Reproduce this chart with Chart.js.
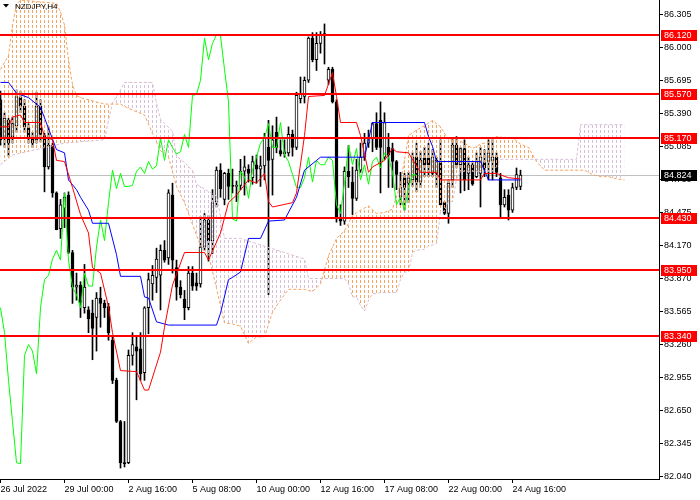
<!DOCTYPE html>
<html><head><meta charset="utf-8">
<script src="https://cdn.jsdelivr.net/npm/chart.js@4/dist/chart.umd.min.js"></script>
<style>html,body{margin:0;padding:0;background:#fff}#wrap{width:700px;height:500px;position:relative}</style>
</head><body><div id="wrap"><canvas id="c" width="700" height="500"></canvas></div>
<script>
const chartTitle = 'NZDJPY,H4';
const xTickIdx = [0, 16, 32, 48, 64, 80, 96, 112, 128];
const xTickLabels = ['26 Jul 2022','29 Jul 00:00','2 Aug 16:00','5 Aug 08:00','10 Aug 00:00','12 Aug 16:00','17 Aug 08:00','22 Aug 00:00','24 Aug 16:00'];
const yTickLabels = ['86.305','86.000','85.695','85.390','85.085','84.780','84.475','84.170','83.870','83.565','83.260','82.955','82.650','82.345','82.040'];
const levels = [86.120, 85.570, 85.170, 84.430, 83.950, 83.340];
const lastPrice = 84.824;

const opens = [85.52,85.17,85.33,85.18,85.28,85.54,85.46,85.26,85.17,85.15,85.46,85.19,84.90,85.10,84.66,84.33,84.52,84.64,84.11,83.79,
83.81,83.60,83.58,83.55,83.51,83.69,83.64,83.61,83.30,82.93,82.55,82.17,82.17,83.16,83.24,83.22,83.00,83.60,83.82,83.88,
83.90,84.13,84.06,84.64,83.97,83.79,83.68,83.60,83.92,83.83,83.82,84.16,84.41,84.22,84.58,84.87,84.60,84.84,84.73,84.72,
84.73,84.86,84.88,84.80,84.92,84.88,84.91,85.08,84.97,85.22,85.05,85.02,85.03,85.20,85.08,85.53,85.55,85.70,86.09,85.89,
86.04,86.13,85.70,85.80,85.50,84.42,84.40,84.86,84.76,84.61,84.87,84.99,85.12,85.17,85.30,85.33,84.99,85.08,85.07,84.95,
84.62,84.80,84.75,84.78,84.99,84.76,84.98,84.98,84.84,84.84,84.94,84.57,84.47,84.78,85.10,84.92,85.07,84.84,84.92,84.81,
84.84,84.94,84.95,84.96,84.99,84.80,84.55,84.64,84.50,84.71,84.72];
const highs = [85.60,85.40,85.35,85.36,85.61,85.60,85.52,85.30,85.22,85.59,85.52,85.21,85.27,85.12,84.67,84.60,84.66,84.67,84.13,83.92,
83.84,84.00,83.61,83.67,83.74,83.79,83.67,83.64,83.33,82.95,82.56,82.55,83.21,83.37,83.33,83.37,83.61,83.92,83.99,84.15,
84.18,84.22,84.69,84.75,84.04,83.85,83.76,83.98,83.98,83.92,84.44,84.47,84.45,84.69,84.90,84.93,84.85,84.88,84.88,84.77,
84.97,85.00,84.92,85.00,85.01,85.00,85.21,85.33,85.28,85.36,85.15,85.15,85.27,85.24,85.59,85.73,85.73,86.10,86.14,86.14,
86.15,86.22,85.82,85.82,85.52,84.55,84.90,85.10,84.90,84.97,85.12,85.21,85.24,85.31,85.40,85.50,85.40,85.21,85.12,84.96,
84.85,84.84,84.85,85.03,85.12,85.04,85.08,85.12,85.06,84.99,85.15,84.58,84.78,85.17,85.18,85.08,85.15,84.99,84.94,85.03,
85.08,85.06,85.15,85.15,85.03,84.84,84.69,84.69,84.75,84.89,84.87];
const lows = [85.10,85.08,85.00,85.12,85.22,85.40,85.22,85.12,85.08,85.12,85.13,84.67,84.88,84.62,84.32,84.24,84.34,84.10,83.64,83.67,
83.51,83.55,83.37,83.12,83.20,83.42,83.51,83.30,82.90,82.54,82.12,82.13,82.16,83.07,82.75,82.93,82.93,83.36,83.67,83.74,
83.58,84.02,84.00,83.92,83.67,83.69,83.49,83.58,83.76,83.76,83.79,84.13,84.03,84.10,84.53,84.62,84.55,84.60,84.66,84.58,
84.69,84.64,84.76,84.74,84.75,84.72,84.78,83.72,84.64,85.03,85.00,84.99,85.00,85.00,85.06,85.49,85.49,85.68,85.87,85.79,
85.95,85.85,85.66,85.49,84.39,84.36,84.37,84.71,84.46,84.59,84.85,84.96,85.08,85.04,85.06,84.66,84.97,84.71,84.71,84.69,
84.55,84.50,84.57,84.72,84.67,84.71,84.81,84.81,84.81,84.71,84.55,84.46,84.38,84.71,84.89,84.66,84.68,84.69,84.73,84.80,
84.53,84.81,84.78,84.78,84.81,84.44,84.53,84.41,84.48,84.69,84.69];
const closes = [85.15,85.35,85.12,85.30,85.55,85.46,85.27,85.18,85.12,85.46,85.20,84.90,85.10,84.66,84.32,84.55,84.62,84.11,83.79,83.81,
83.65,83.79,83.50,83.41,83.69,83.64,83.60,83.37,82.93,82.55,82.17,82.16,83.16,83.26,83.20,82.99,83.60,83.86,83.90,84.05,
84.13,84.04,84.66,84.04,83.79,83.72,83.60,83.92,83.80,83.80,84.16,84.41,84.22,84.57,84.87,84.70,84.84,84.72,84.72,84.73,
84.86,84.90,84.84,84.95,84.88,84.91,85.17,84.96,85.15,85.08,85.02,85.04,85.20,85.08,85.56,85.57,85.70,86.09,85.89,86.04,
86.12,86.11,85.80,85.50,84.42,84.40,84.86,84.81,84.61,84.87,84.99,85.12,85.17,85.30,85.08,85.08,85.31,85.01,84.95,84.83,
84.71,84.71,84.80,84.99,84.76,84.96,84.92,84.92,84.99,84.96,84.55,84.47,84.75,85.10,84.92,85.07,84.78,84.92,84.74,84.95,
84.99,84.89,85.03,84.99,84.85,84.55,84.62,84.50,84.71,84.83,84.824];

// Chikou span (green), starts at bar 0
const chikou = [83.60,83.37,82.93,82.55,82.17,82.16,83.16,83.26,83.20,82.99,83.60,83.86,83.90,84.05,84.13,84.04,84.66,84.04,83.79,83.72,
83.60,83.92,83.80,83.80,84.16,84.41,84.22,84.57,84.87,84.70,84.84,84.72,84.72,84.73,84.86,84.90,84.84,84.95,84.88,84.91,
85.17,84.96,85.15,85.08,85.02,85.04,85.20,85.08,85.56,85.57,85.70,86.09,85.89,86.04,86.12,86.11,85.80,85.50,84.42,84.40,
84.86,84.81,84.61,84.87,84.99,85.12,85.17,85.30,85.08,85.08,85.31,85.01,84.95,84.83,84.71,84.71,84.80,84.99,84.76,84.96,
84.92,84.92,84.99,84.96,84.55,84.47,84.75,85.10,84.92,85.07,84.78,84.92,84.74,84.95,84.99,84.89,85.03,84.99,84.85,84.55,
84.62,84.50,84.71,84.83,84.824];

const tenkanIdx = [0,2,3,5,6,10,11,13,14,16,18,20,22,23,25,27,28,30,34,36,37,40,41,43,46,51,52,55,57,59,62,64,66,67,68,73,74,76,77,81,83,84,85,89,90,92,93,96,98,99,102,105,109,110,120,121,124,127,130];
const tenkanVal = [85.27,85.27,85.36,85.38,85.31,85.31,85.18,85.15,84.96,84.95,84.71,84.46,84.29,83.97,83.92,83.61,83.37,83.02,83.01,82.84,82.84,83.19,83.42,83.81,84.11,84.11,84.04,84.29,84.57,84.64,84.78,84.75,84.84,84.58,84.53,84.57,84.66,85.19,85.55,85.56,85.77,85.55,85.31,85.31,85.19,84.85,84.90,84.96,85.07,85.04,85.03,84.85,84.85,84.78,84.78,84.84,84.84,84.80,84.79];

const kijunIdx = [0,2,4,7,10,14,16,17,19,20,22,23,27,29,30,35,36,37,39,42,54,55,57,58,60,62,65,67,71,74,76,79,80,91,93,106,107,108,109,120,122,130];
const kijunVal = [85.68,85.68,85.58,85.54,85.45,85.06,85.03,84.78,84.69,84.62,84.50,84.38,84.38,84.09,83.89,83.89,83.70,83.69,83.47,83.44,83.44,83.55,83.86,83.88,83.93,84.24,84.24,84.40,84.41,84.62,84.87,84.96,84.99,84.99,85.31,85.31,85.18,85.09,84.95,84.95,84.78,84.78];

const spanAIdx = [0,2,3,4,5,14,15,16,17,18,19,20,24,26,30,32,34,36,38,40,42,44,46,48,50,52,54,56,58,60,62,64,66,68,70,72,76,78,80,82,84,86,88,90,92,94,96,98,100,102,104,106,108,110,112,114,116,118,120,122,124,126,128,130,132,134,136,146,148,150,152,154,156];
const spanAVal = [85.80,85.93,86.21,86.40,86.44,86.41,86.33,86.21,85.89,85.66,85.56,85.54,85.50,85.48,85.48,85.44,85.41,85.38,85.21,85.05,84.99,84.72,84.57,84.37,84.17,84.09,83.78,83.46,83.45,83.43,83.27,83.33,83.33,83.56,83.67,83.77,83.77,83.75,83.82,84.08,84.24,84.31,84.45,84.50,84.54,84.47,84.48,84.51,84.74,85.19,85.24,85.28,85.33,85.27,85.15,85.15,85.12,85.07,85.11,85.13,85.18,85.17,85.17,85.11,85.08,84.95,84.87,84.87,84.83,84.81,84.81,84.79,84.78];

const spanBIdx = [0,3,16,26,27,28,30,31,38,39,40,41,43,44,46,48,49,54,55,56,60,76,77,86,87,88,89,90,91,92,93,94,95,99,100,101,102,103,104,106,107,108,109,110,111,112,113,114,115,123,124,125,144,145,156];
const spanBVal = [84.92,85.01,85.12,85.15,85.33,85.49,85.61,85.68,85.68,85.49,85.34,85.30,85.23,85.00,84.94,84.87,84.74,84.63,84.45,84.24,84.24,84.05,83.87,83.87,83.82,83.70,83.70,83.62,83.57,83.67,83.73,83.73,83.74,83.74,83.86,83.93,83.93,84.11,84.13,84.14,84.17,84.18,84.19,84.49,84.49,84.58,84.58,84.79,84.86,84.86,84.90,84.97,84.97,85.29,85.29];

const pts = (ix, vals) => ix.map((x, k) => ({x: x, y: vals[k]}));

const canvas = document.getElementById('c');
const ctx = canvas.getContext('2d');
function makePat(color){
  const c = document.createElement('canvas'); c.width = 4; c.height = 5;
  const g = c.getContext('2d'); g.fillStyle = color; g.fillRect(0, 0, 1, 3);
  return ctx.createPattern(c, 'repeat');
}
const ORANGE = '#F4A460', PLUM = '#D8BFD8';
const orangePat = makePat(ORANGE), plumPat = makePat(PLUM);
const FONT = "'Liberation Sans', Arial, sans-serif";

const wickData = highs.map((h, i) => ({x: i, y: [lows[i], h]}));
const bodyData = opens.map((o, i) => ({x: i, y: [Math.min(o, closes[i]), Math.max(o, closes[i])]}));
const bodyColors = opens.map((o, i) => closes[i] >= o ? '#FFFFFF' : '#000000');

const overlay = {
  id: 'overlay',
  beforeDatasetsDraw(chart){
    const {ctx, chartArea: a, scales: {y}} = chart;
    const yy = Math.round(y.getPixelForValue(lastPrice)) + 0.5;
    ctx.save(); ctx.strokeStyle = '#C0C0C0'; ctx.lineWidth = 1;
    ctx.beginPath(); ctx.moveTo(a.left, yy); ctx.lineTo(a.right, yy); ctx.stroke(); ctx.restore();
  },
  afterDatasetsDraw(chart){
    const {ctx, chartArea: a, scales: {y}} = chart;
    ctx.save(); ctx.strokeStyle = '#FF0000'; ctx.lineWidth = 2;
    levels.forEach(v => {
      const yy = Math.round(y.getPixelForValue(v));
      ctx.beginPath(); ctx.moveTo(a.left, yy); ctx.lineTo(a.right, yy); ctx.stroke();
    });
    ctx.restore();
  },
  afterDraw(chart){
    const {ctx, chartArea: a, scales: {y}} = chart;
    ctx.save();
    ctx.font = '9px ' + FONT; ctx.textBaseline = 'middle'; ctx.textAlign = 'left';
    const box = (v, bg) => {
      const yy = Math.round(y.getPixelForValue(v));
      ctx.fillStyle = bg; ctx.fillRect(a.right + 2, yy - 5, 36, 11);
      ctx.fillStyle = '#FFFFFF'; ctx.fillText(v.toFixed(3), a.right + 5, yy + 0.5);
    };
    levels.forEach(v => box(v, '#FF0000'));
    box(lastPrice, '#000000');
    ctx.fillStyle = '#000000';
    ctx.beginPath(); ctx.moveTo(3, 4); ctx.lineTo(9, 4); ctx.lineTo(6, 7.5); ctx.closePath(); ctx.fill();
    ctx.font = '8px ' + FONT; ctx.textBaseline = 'alphabetic';
    ctx.fillStyle = '#000000'; ctx.fillText(chartTitle, 15, 9);
    ctx.restore();
  }
};

new Chart(canvas, {
  data: {
    datasets: [
      {type: 'line', label: 'Tenkan', data: pts(tenkanIdx, tenkanVal), borderColor: '#FF0000', borderWidth: 1, pointRadius: 0, tension: 0, fill: false, order: 1},
      {type: 'line', label: 'Kijun', data: pts(kijunIdx, kijunVal), borderColor: '#0000FF', borderWidth: 1, pointRadius: 0, tension: 0, fill: false, order: 1},
      {type: 'line', label: 'Chikou', data: chikou.map((v, k) => ({x: k, y: v})), borderColor: '#00FF00', borderWidth: 1, pointRadius: 0, tension: 0, fill: false, order: 1},
      {type: 'line', label: 'SpanA', data: pts(spanAIdx, spanAVal), borderColor: ORANGE, borderWidth: 1, borderDash: [3, 2], pointRadius: 0, tension: 0,
        fill: {target: 4, above: orangePat, below: plumPat}, order: 3},
      {type: 'line', label: 'SpanB', data: pts(spanBIdx, spanBVal), borderColor: PLUM, borderWidth: 1, borderDash: [3, 2], pointRadius: 0, tension: 0, fill: false, order: 3},
      {type: 'bar', label: 'Wicks', data: wickData, backgroundColor: '#000000', barThickness: 1, grouped: false, order: 10},
      {type: 'bar', label: 'Bodies', data: bodyData, backgroundColor: bodyColors, borderColor: '#000000', borderWidth: 1, borderSkipped: false, barThickness: 3, minBarLength: 1, grouped: false, order: 9}
    ]
  },
  options: {
    responsive: false, animation: false, devicePixelRatio: 1,
    layout: {padding: 0},
    plugins: {legend: {display: false}, tooltip: {enabled: false}, title: {display: false}},
    scales: {
      x: {
        type: 'linear', position: 'bottom', min: -0.125, max: 164.625, offset: false,
        afterFit(s){ s.height = 21; s.paddingLeft = 0; s.paddingRight = 0; s.paddingTop = 0; s.paddingBottom = 0; },
        afterBuildTicks(s){ s.ticks = xTickIdx.map(v => ({value: v})); },
        ticks: {callback: (v, i) => xTickLabels[i], align: 'start', maxRotation: 0, autoSkip: false, color: '#000', padding: 1, font: {family: FONT, size: 9}},
        grid: {offset: false, drawOnChartArea: false, drawTicks: true, tickLength: 4, color: '#000'},
        border: {display: true, color: '#000'}
      },
      y: {
        type: 'linear', position: 'right', min: 82.019, max: 86.441,
        afterFit(s){ s.width = 41; s.paddingTop = 0; s.paddingBottom = 0; s.paddingLeft = 0; s.paddingRight = 0; },
        afterBuildTicks(s){ s.ticks = yTickLabels.map(t => ({value: parseFloat(t)})); },
        ticks: {callback: (v, i) => yTickLabels[i], autoSkip: false, color: '#000', padding: 1, font: {family: FONT, size: 9}},
        grid: {drawOnChartArea: false, drawTicks: true, tickLength: 4, color: '#000'},
        border: {display: true, color: '#000'}
      }
    }
  },
  plugins: [overlay]
});
</script></body></html>
